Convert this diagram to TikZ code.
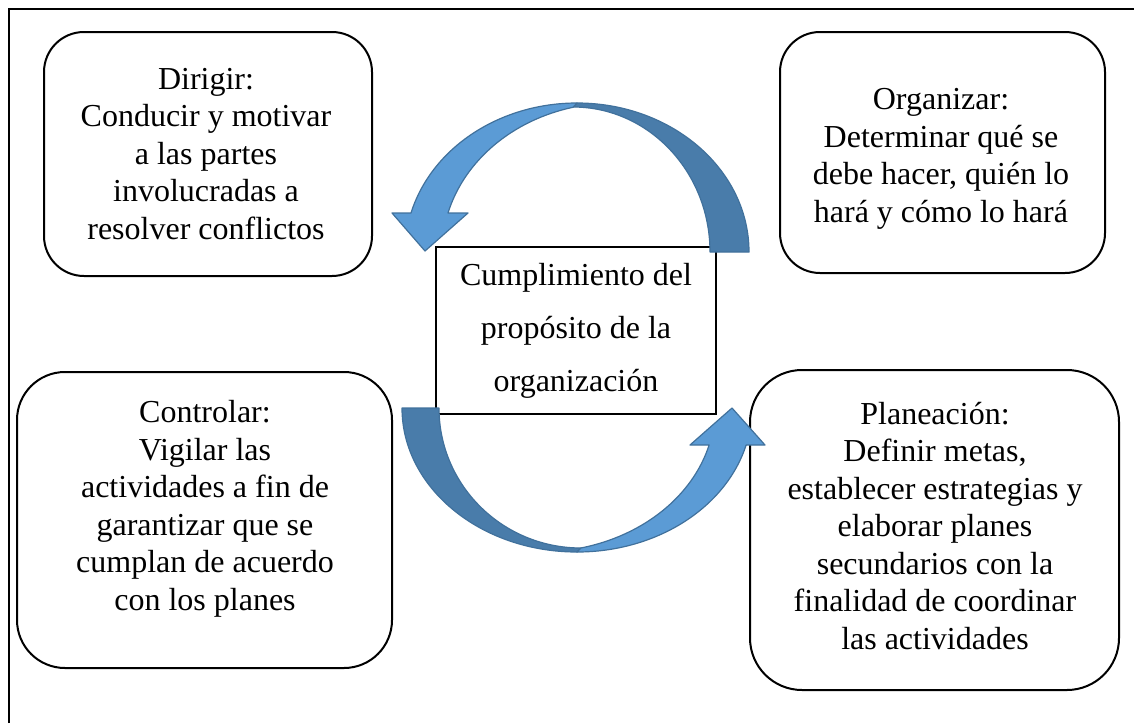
\documentclass[tikz,border=0pt]{standalone}
\usepackage{fontspec}
\setmainfont{Liberation Serif}
\definecolor{lightblue}{HTML}{5B9BD5}
\definecolor{darkblue}{HTML}{497CAA}
\definecolor{edgeblue}{HTML}{41719C}
\begin{document}
\begin{tikzpicture}[x=1pt,y=-1pt,
  roundbox/.style={draw=black,line width=2pt},
  boxtext/.style={align=center,font=\fontsize{32}{37.5}\selectfont,inner sep=0pt},
  lightarrow/.style={fill=lightblue,draw=edgeblue,line width=1.2pt,line join=round},
  darkarrow/.style={fill=darkblue,draw=edgeblue,line width=1.2pt,line join=round}]
\useasboundingbox (0,0) rectangle (1134,723);
% frame
\draw[line width=1.6pt] (9,723) -- (9,9) -- (1134,9);
% rounded boxes
\draw[roundbox,rounded corners=40pt] (44,32) rectangle (372,276);
\draw[roundbox,rounded corners=40pt] (780,32) rectangle (1105,273);
\draw[roundbox,rounded corners=48pt] (17,372) rectangle (392,668);
\draw[roundbox,rounded corners=52pt] (750,370) rectangle (1119,690);
% centre box
\node[draw=black,line width=1.6pt,minimum width=280pt,minimum height=167pt,
      align=center,font=\fontsize{32}{53}\selectfont,inner sep=0pt] (centre) at (576,330.5)
  {Cumplimiento del\\propósito de la\\organización};
% texts
\node[boxtext] (dirigir) at (206,154) {Dirigir:\\Conducir y motivar\\a las partes\\involucradas a\\resolver conflictos};
\node[boxtext] (organizar) at (941,159) {Organizar:\\Determinar qué se\\debe hacer, quién lo\\hará y cómo lo hará};
\node[boxtext] (controlar) at (205,509) {Controlar:\\Vigilar las\\actividades a fin de\\garantizar que se\\cumplan de acuerdo\\con los planes};
\node[boxtext] (planeacion) at (935,526) {Planeación:\\Definir metas,\\establecer estrategias y\\elaborar planes\\secundarios con la\\finalidad de coordinar\\las actividades};
% top curved arrow
\draw[darkarrow] (749,252) arc[start angle=0,end angle=-90,x radius=172,y radius=149]
  -- (573,107) arc[start angle=-90,end angle=0,x radius=137,y radius=145] -- cycle;
\draw[lightarrow] (448.0,213.0) arc[start angle=-164.83,end angle=-103.8,x radius=172,y radius=149]
  -- (577,103) arc[start angle=-90,end angle=-164.83,x radius=172,y radius=149]
  -- (392,213) -- (425,251) -- (468,213) -- cycle;
% bottom curved arrow
\draw[darkarrow] (402,408) arc[start angle=180,end angle=90,x radius=175,y radius=144]
  -- (581,548) arc[start angle=90,end angle=180,x radius=142,y radius=140] -- cycle;
\draw[lightarrow] (709.1,445.0) arc[start angle=14.9,end angle=76.45,x radius=175,y radius=144]
  -- (577,552) arc[start angle=90,end angle=14.9,x radius=175,y radius=144]
  -- (765,445) -- (732,408) -- (690,445) -- cycle;
\end{tikzpicture}
\end{document}
